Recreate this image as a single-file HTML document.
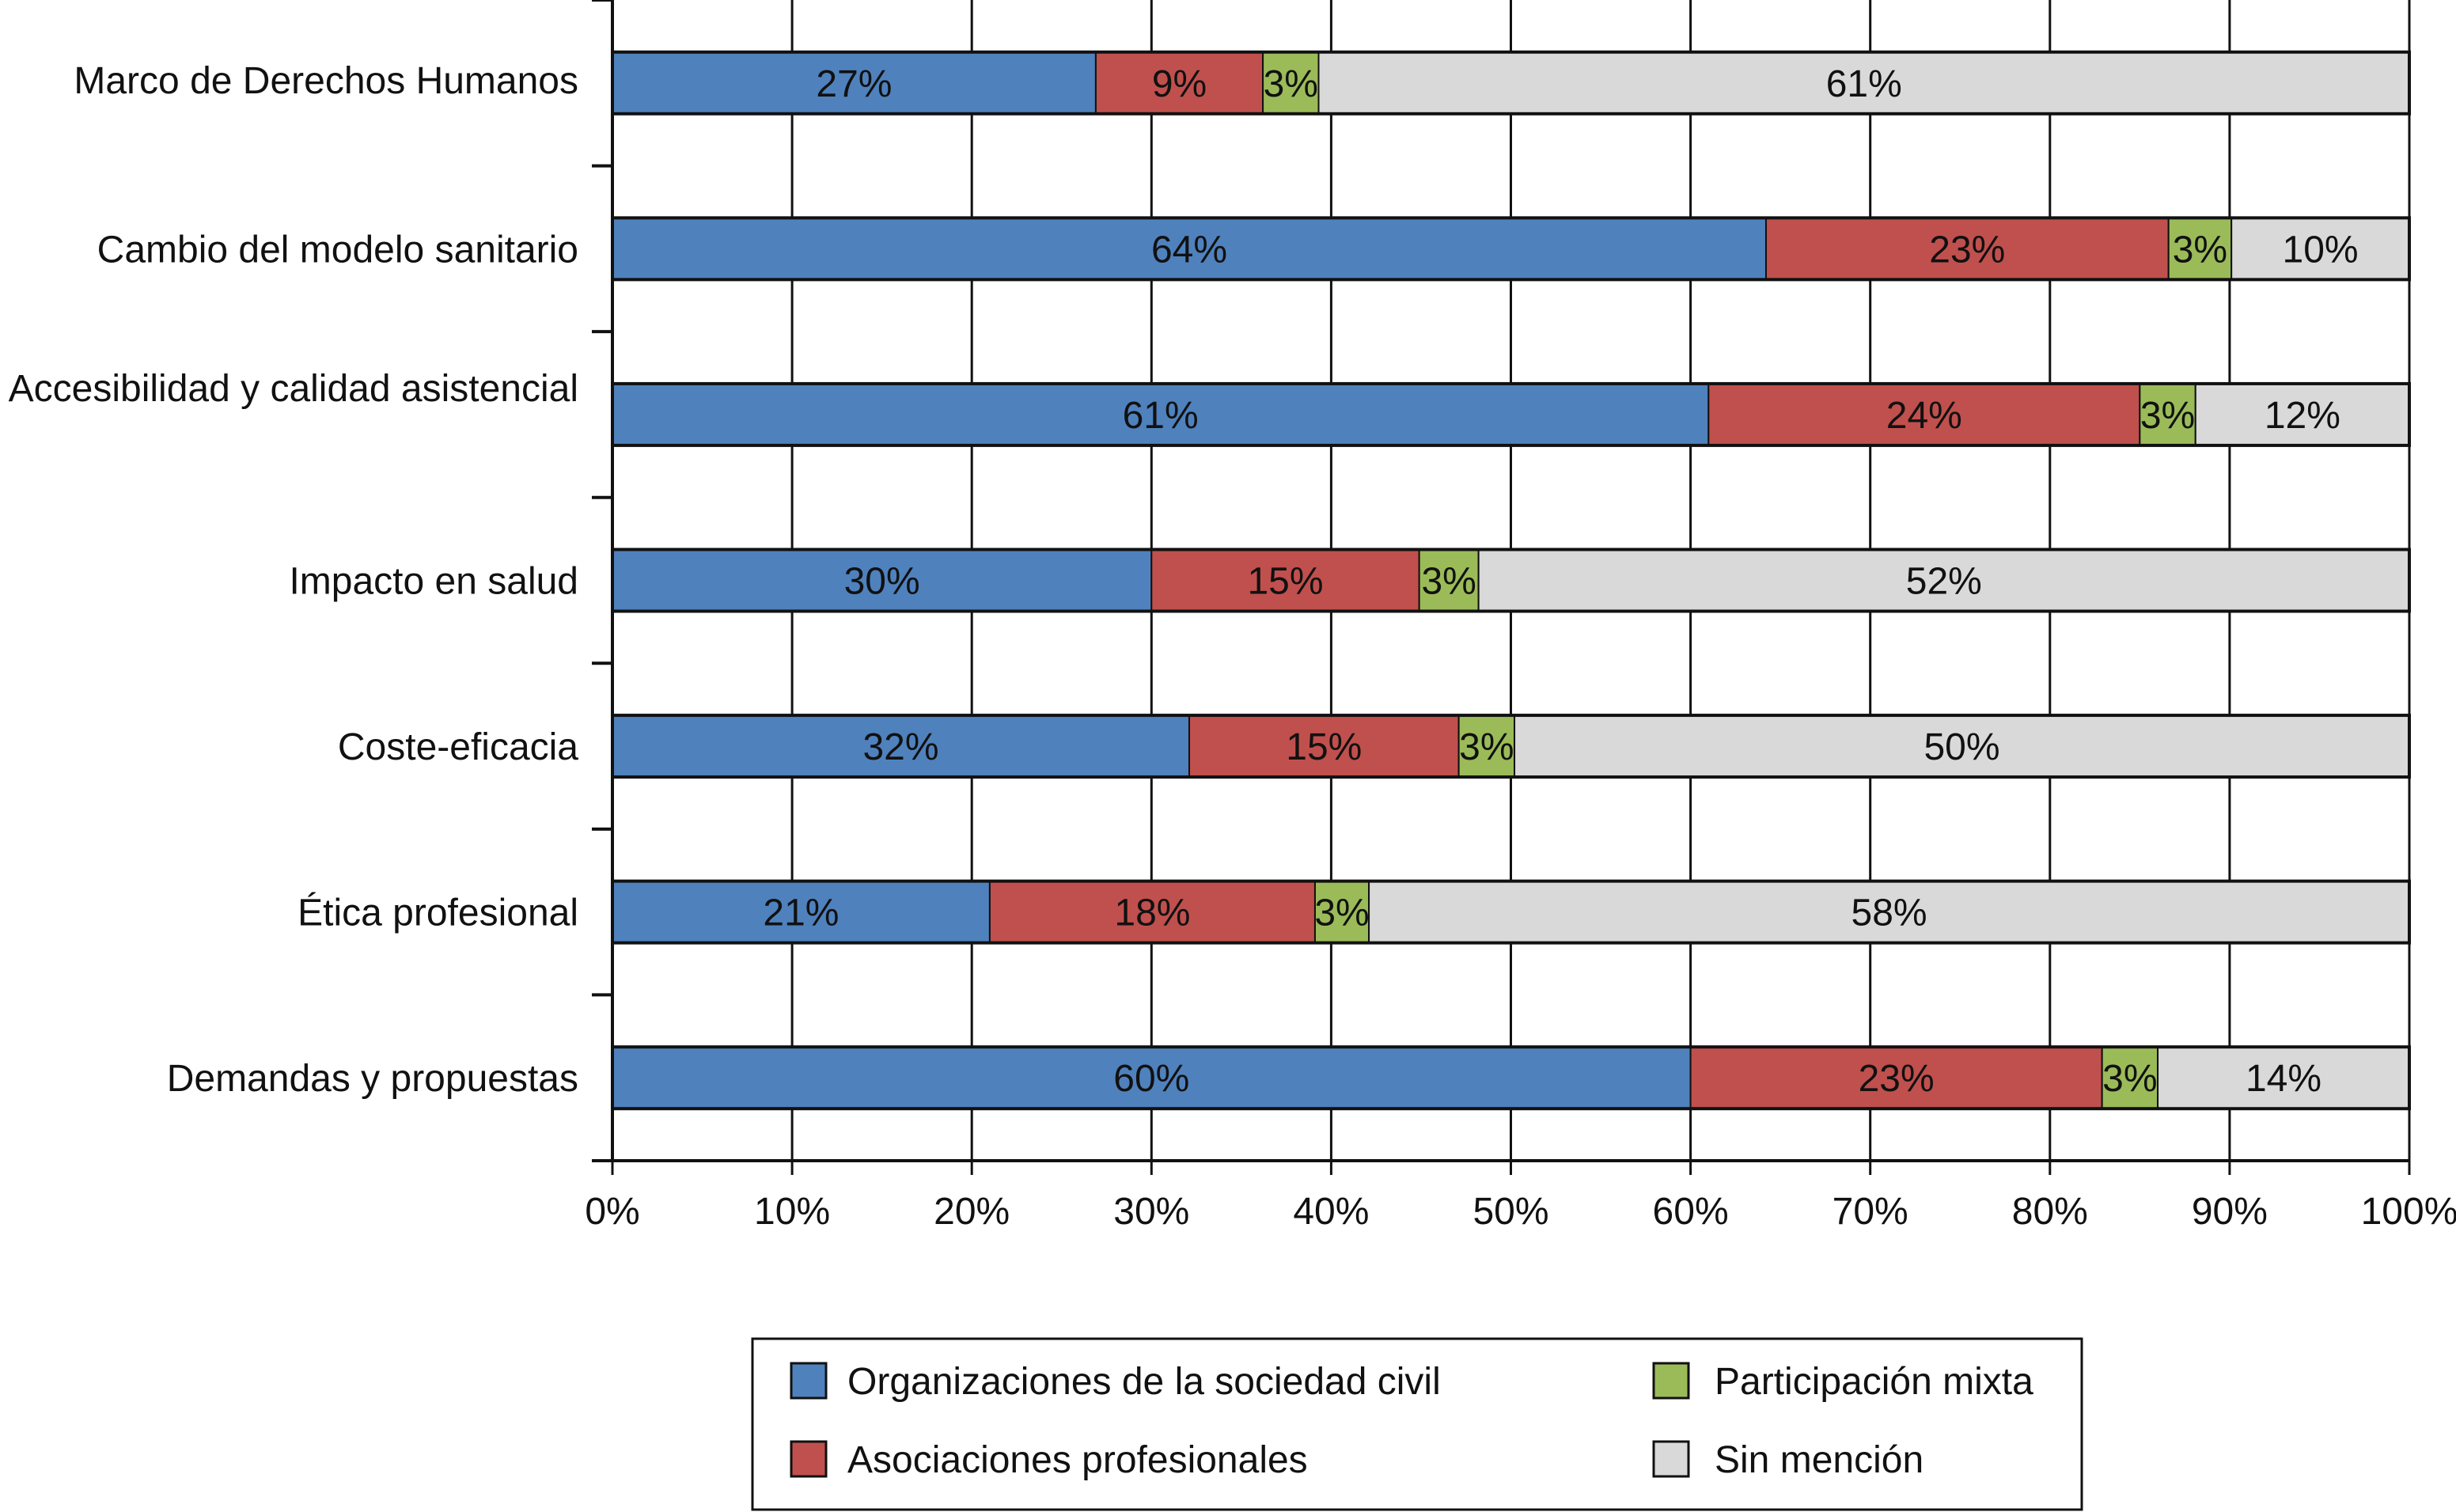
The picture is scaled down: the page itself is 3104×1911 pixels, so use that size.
<!DOCTYPE html>
<html><head><meta charset="utf-8"><style>html,body{margin:0;padding:0;background:#fff}svg{display:block}text{font-family:"Liberation Sans",Arial,sans-serif;fill:#111}</style></head>
<body>
<svg id="chart" xmlns="http://www.w3.org/2000/svg" width="3104" height="1911" viewBox="0 0 3104 1911">
<g id="grid"></g>
<g id="bars"></g>
<g id="axes"></g>
<g id="legend"></g>
</svg>
<script>
const categories = ["Marco de Derechos Humanos","Cambio del modelo sanitario","Accesibilidad y calidad asistencial","Impacto en salud","Coste-eficacia","Ética profesional","Demandas y propuestas"];
const seriesNames = ["Organizaciones de la sociedad civil","Asociaciones profesionales","Participación mixta","Sin mención"];
const seriesColors = ["#4f81bd","#c0504d","#9bbb59","#d9d9d9"];
const civil = [26.9,64.2,61.0,30.0,32.1,21.0,60.0];
const profesionales = [9.3,22.4,24.0,14.9,15.0,18.1,22.9];
const mixta = [3.1,3.5,3.1,3.3,3.1,3.0,3.1];
const sinMencion = [60.7,9.9,11.9,51.8,49.8,57.9,14.0];
const civilLabels = ["27%","64%","61%","30%","32%","21%","60%"];
const profLabels = ["9%","23%","24%","15%","15%","18%","23%"];
const mixtaLabels = ["3%","3%","3%","3%","3%","3%","3%"];
const sinLabels = ["61%","10%","12%","52%","50%","58%","14%"];
const xTicks = [0,10,20,30,40,50,60,70,80,90,100];
const xTickLabels = ["0%","10%","20%","30%","40%","50%","60%","70%","80%","90%","100%"];

const NS="http://www.w3.org/2000/svg";
const X0=774,X1=3045,YTOP=0,YBOT=1467;
const band=(YBOT-YTOP)/categories.length, barH=78;
const FS=48;
const xs=v=>X0+(X1-X0)*v/100;
const yc=i=>YTOP+band*i+band/2;
function mk(tag,attrs,parent){const e=document.createElementNS(NS,tag);for(const k in attrs)e.setAttribute(k,attrs[k]);parent.appendChild(e);return e;}
const grid=document.getElementById('grid'),bars=document.getElementById('bars'),axes=document.getElementById('axes'),legend=document.getElementById('legend');

xTicks.forEach((t,i)=>{
  const l=mk('line',{x1:xs(t),x2:xs(t),y1:YTOP,y2:YBOT+18,stroke:'#111','stroke-width':3},grid);
  
  
  const tx=mk('text',{x:xs(t),y:YBOT+80,'text-anchor':'middle','font-size':FS},axes);
  tx.textContent=xTickLabels[i];
  
  
});

const series=[civil,profesionales,mixta,sinMencion];
const labels=[civilLabels,profLabels,mixtaLabels,sinLabels];
const segNames=['civil','profesionales','mixta','sin-mencion'];
const labelShift=[-4,0,-34,0,0,0,0];
categories.forEach((c,i)=>{
  let acc=0;const top=yc(i)-barH/2;
  series.forEach((s,k)=>{
    const x=xs(acc),w=xs(acc+s[i])-x;
    const r=mk('rect',{x:x,y:top,width:w,height:barH,fill:seriesColors[k],stroke:'#111','stroke-width':2},bars);
    
    
    const t=mk('text',{x:x+w/2,y:yc(i)+17,'text-anchor':'middle','font-size':FS},bars);
    t.textContent=labels[k][i];
    
    
    acc+=s[i];
  });
  const o=mk('rect',{x:X0,y:top,width:X1-X0,height:barH,fill:'none',stroke:'#111','stroke-width':4},bars);
  
  
  const cl=mk('text',{x:731,y:yc(i)+17+labelShift[i],'text-anchor':'end','font-size':FS},axes);
  cl.textContent=c;
  
  
});
for(let k=0;k<=categories.length;k++){
  const y=YTOP+band*k;
  const tk=mk('line',{x1:X0-26,x2:X0,y1:y,y2:y,stroke:'#111','stroke-width':4},axes);
  
  
}
const ya=mk('line',{x1:X0,x2:X0,y1:YTOP,y2:YBOT,stroke:'#111','stroke-width':4},axes);


const xa=mk('line',{x1:X0-26,x2:X1,y1:YBOT,y2:YBOT,stroke:'#111','stroke-width':4},axes);



const box=mk('rect',{x:951,y:1692,width:1680,height:216,fill:'#fff',stroke:'#111','stroke-width':3},legend);


const pos=[[1000,1723],[1000,1822],[2090,1723],[2090,1822]];
const textX=[1071,1071,2167,2167];
seriesNames.forEach((n,k)=>{
  const [x,y]=pos[k];
  const sw=mk('rect',{x:x,y:y,width:44,height:44,fill:seriesColors[k],stroke:'#111','stroke-width':3},legend);
  
  
  const t=mk('text',{x:textX[k],y:y+39,'font-size':FS},legend);
  t.textContent=n;
  
  
});
</script>
</body></html>
